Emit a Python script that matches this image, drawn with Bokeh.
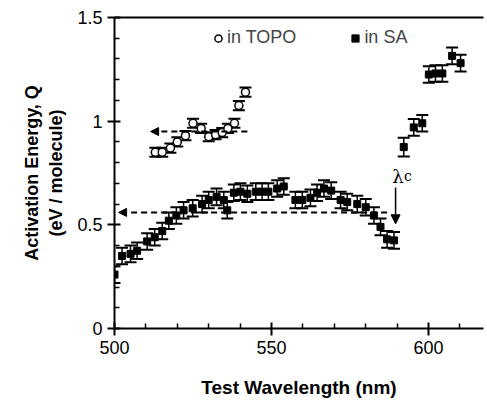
from bokeh.plotting import figure
from bokeh.models import (ColumnDataSource, Whisker, TeeHead, Arrow, NormalHead, Label,
                          Legend, LegendItem, Range1d, FixedTicker, LinearAxis)
from bokeh.embed import file_html
from bokeh.resources import INLINE

# ---- data ----
sa_x = [500.0, 502.4, 505.1, 507.2, 510.4, 512.8, 515.2, 517.3, 519.7, 522.0, 524.9, 527.9,
        530.0, 532.5, 534.8, 535.9, 538.0, 540.1, 542.3, 545.0, 547.0, 549.0, 551.8, 553.9,
        557.6, 559.8, 562.4, 564.5, 566.7, 569.0, 572.0, 574.1, 577.3, 580.0, 582.6, 584.7,
        586.8, 589.0, 592.1, 595.3, 598.0, 600.1, 602.2, 604.4, 607.5, 610.2]
sa_y = [0.26, 0.35, 0.36, 0.375, 0.42, 0.44, 0.47, 0.52, 0.545, 0.57, 0.58, 0.60,
        0.62, 0.635, 0.62, 0.57, 0.655, 0.66, 0.65, 0.66, 0.66, 0.66, 0.675, 0.685,
        0.62, 0.62, 0.63, 0.655, 0.675, 0.665, 0.62, 0.61, 0.60, 0.585, 0.545, 0.49,
        0.43, 0.425, 0.875, 0.97, 0.99, 1.225, 1.23, 1.23, 1.315, 1.28]
sa_err = [0.04] * 38 + [0.045, 0.04, 0.04, 0.04, 0.04, 0.04, 0.04, 0.04]

topo_x = [513.0, 515.2, 517.8, 520.0, 522.6, 525.0, 527.6, 530.0, 532.2, 534.3, 536.1,
          538.2, 539.6, 541.7]
topo_y = [0.85, 0.85, 0.87, 0.90, 0.93, 0.99, 0.965, 0.925, 0.935, 0.945, 0.965,
          0.99, 1.075, 1.14]
topo_err = [0.022] * 14

topo_mean = 0.95
topo_span = [542.3, 511.5]
sa_mean = 0.56
sa_span = [586.8, 501.3]
lambda_c = 589.5
lambda_arrow = [0.68, 0.505]

x_ticks = [500, 550, 600]
x_minor = [510, 520, 530, 540, 560, 570, 580, 590, 610]
y_ticks = [0, 0.5, 1, 1.5]
y_tick_labels = ["0", "0.5", "1", "1.5"]
y_minor = [0.1, 0.2, 0.3, 0.4, 0.6, 0.7, 0.8, 0.9, 1.1, 1.2, 1.3, 1.4]

FONT = "Liberation Sans"

p = figure(width=485, height=403, x_range=Range1d(500, 617.5), y_range=Range1d(0, 1.5),
           output_backend="svg", toolbar_location=None,
           min_border_left=114, min_border_right=2, min_border_top=17, min_border_bottom=75,
           x_axis_label="Test Wavelength (nm)",
           y_axis_label="Activation Energy, Q\n(eV / molecule)")
p.grid.visible = False
p.outline_line_color = None
p.background_fill_color = "white"

sa_src = ColumnDataSource(dict(x=sa_x, y=sa_y,
                               lo=[y - e for y, e in zip(sa_y, sa_err)],
                               hi=[y + e for y, e in zip(sa_y, sa_err)]))
topo_src = ColumnDataSource(dict(x=topo_x, y=topo_y,
                                 lo=[y - e for y, e in zip(topo_y, topo_err)],
                                 hi=[y + e for y, e in zip(topo_y, topo_err)]))

for src in (sa_src, topo_src):
    w = Whisker(source=src, base="x", lower="lo", upper="hi", dimension="height",
                line_color="black", line_width=1.5, level="underlay",
                upper_head=TeeHead(size=12, line_width=2, line_color="black"),
                lower_head=TeeHead(size=12, line_width=2, line_color="black"))
    p.add_layout(w)

# dashed mean arrows
p.add_layout(Arrow(x_start=topo_span[0], y_start=topo_mean, x_end=topo_span[1], y_end=topo_mean,
                   line_dash="6 4", line_width=2, line_color="black",
                   end=NormalHead(size=8, fill_color="black", line_color="black", line_width=1)))
p.add_layout(Arrow(x_start=sa_span[0], y_start=sa_mean, x_end=sa_span[1], y_end=sa_mean,
                   line_dash="6 4", line_width=2, line_color="black",
                   end=NormalHead(size=8, fill_color="black", line_color="black", line_width=1)))
# lambda_c arrow
p.add_layout(Arrow(x_start=lambda_c, y_start=lambda_arrow[0], x_end=lambda_c, y_end=lambda_arrow[1],
                   line_width=1.5, line_color="black",
                   end=NormalHead(size=9, fill_color="black", line_color="black", line_width=1)))
p.add_layout(Label(x=lambda_c + 2.6, y=0.735, text="λ", text_align="right",
                   text_baseline="alphabetic", text_font="DejaVu Serif",
                   text_font_size="18px", text_color="black"))
p.add_layout(Label(x=lambda_c + 2.7, y=0.735, text="c", text_align="left",
                   text_baseline="alphabetic", text_font="DejaVu Serif",
                   text_font_size="14px", text_color="black"))

sa_r = p.scatter("x", "y", source=sa_src, marker="square", size=7,
                 fill_color="black", line_color="black")
topo_r = p.scatter("x", "y", source=topo_src, marker="circle", size=8,
                   fill_color="white", line_color="black", line_width=1.5)

legend = Legend(items=[LegendItem(label="in TOPO", renderers=[topo_r]),
                       LegendItem(label="in SA", renderers=[sa_r])],
                orientation="horizontal", location=(95, 280),
                border_line_color=None, background_fill_alpha=0,
                label_text_font=FONT, label_text_font_size="18px",
                glyph_width=18, glyph_height=18, label_standoff=0,
                spacing=50, padding=0, margin=0)
p.add_layout(legend)

# axes
for ax in (p.xaxis[0], p.yaxis[0]):
    ax.axis_line_width = 2
    ax.major_tick_line_width = 2
    ax.minor_tick_line_width = 1.5
    ax.major_tick_in = 6
    ax.major_tick_out = 7
    ax.minor_tick_in = 5
    ax.minor_tick_out = 0
    ax.major_label_text_font = FONT
    ax.major_label_text_font_size = "18px"
    ax.major_label_text_color = "black"
    ax.major_label_standoff = 5
    ax.axis_label_text_font = FONT
    ax.axis_label_text_font_style = "bold"
    ax.axis_label_text_font_size = "19px"
    ax.axis_label_text_color = "black"

p.xaxis[0].axis_label_standoff = 20
p.yaxis[0].axis_label_standoff = 8
p.yaxis[0].axis_label_text_font_size = "18px"

p.xaxis[0].ticker = FixedTicker(ticks=x_ticks, minor_ticks=x_minor)
p.yaxis[0].ticker = FixedTicker(ticks=y_ticks, minor_ticks=y_minor)
p.yaxis[0].major_label_overrides = {t: s for t, s in zip(y_ticks, y_tick_labels)}

top = LinearAxis(ticker=FixedTicker(ticks=[]), axis_line_width=2,
                 major_tick_in=0, major_tick_out=0, minor_tick_in=0, minor_tick_out=0)
p.add_layout(top, "above")

open("out.html", "w").write(file_html(p, INLINE))
